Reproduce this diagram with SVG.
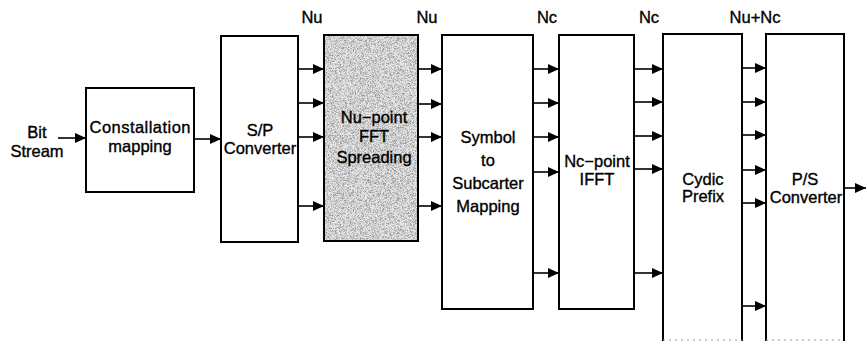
<svg xmlns="http://www.w3.org/2000/svg" width="866" height="341" viewBox="0 0 866 341">
<defs>
<marker id="ah" markerUnits="userSpaceOnUse" markerWidth="12" markerHeight="11" refX="11" refY="5" orient="auto">
<path d="M0,0 L11,5 L0,10 z" fill="#000"/>
</marker>
<filter id="stip" x="0" y="0" width="1" height="1">
<feTurbulence type="fractalNoise" baseFrequency="1.6" numOctaves="1" seed="3" result="n"/>
<feColorMatrix in="n" type="matrix" values="0 0 0 0 0  0 0 0 0 0  0 0 0 0 0  -3 0 0 0 1.75" result="d"/>
<feComposite in="d" in2="SourceGraphic" operator="in"/>
</filter>
</defs>
<style>
.box{fill:#fff;stroke:#000;stroke-width:2}
.t{font-family:"Liberation Sans",Arial,sans-serif;font-size:16.5px;fill:#000;stroke:#000;stroke-width:0.35;text-anchor:middle}
.c line{stroke:#000;stroke-width:1.6;marker-end:url(#ah)}
</style>
<g id="bitstream"><text class="t" x="37" y="138">Bit</text><text class="t" x="37" y="157">Stream</text></g>
<g id="constallation"><rect class="box" x="86" y="88" width="108" height="104"/>
<text class="t" x="140" y="133" textLength="101">Constallation</text><text class="t" x="140" y="152">mapping</text></g>
<g id="sp"><rect class="box" x="221" y="36" width="77" height="206"/>
<text class="t" x="260" y="136">S/P</text><text class="t" x="260" y="154">Converter</text></g>
<g id="fft"><rect x="324" y="35" width="94" height="206" fill="#e6e6e6"/>
<rect x="324" y="35" width="94" height="206" fill="#444" filter="url(#stip)" opacity="0.38"/>
<rect x="324" y="35" width="94" height="206" fill="none" stroke="#000" stroke-width="2"/>
<text class="t" x="374" y="123">Nu−point</text><text class="t" x="374" y="142">FFT</text><text class="t" x="374" y="163">Spreading</text></g>
<g id="symbol"><rect class="box" x="442" y="35" width="91" height="274"/>
<text class="t" x="488" y="143">Symbol</text><text class="t" x="488" y="166">to</text><text class="t" x="488" y="189">Subcarter</text><text class="t" x="488" y="212">Mapping</text></g>
<g id="ifft"><rect class="box" x="559" y="35" width="75" height="274"/>
<text class="t" x="597" y="167">Nc−point</text><text class="t" x="597" y="185">IFFT</text></g>
<g id="cp"><path d="M663,341 V34 H742 V341" fill="#fff" stroke="#000" stroke-width="2"/>
<line x1="663" y1="340" x2="742" y2="340" stroke="#999" stroke-width="1" stroke-dasharray="2 4"/>
<text class="t" x="703" y="185">Cydic</text><text class="t" x="703" y="202">Prefix</text></g>
<g id="ps"><path d="M766,341 V34 H844 V341" fill="#fff" stroke="#000" stroke-width="2"/>
<line x1="766" y1="340" x2="844" y2="340" stroke="#999" stroke-width="1" stroke-dasharray="2 4"/>
<text class="t" x="805" y="185">P/S</text><text class="t" x="806" y="203">Converter</text></g>
<g id="labels">
<text class="t" x="312" y="23">Nu</text><text class="t" x="427" y="23">Nu</text>
<text class="t" x="547" y="23">Nc</text><text class="t" x="649" y="23">Nc</text>
<text class="t" x="755" y="23">Nu+Nc</text></g>
<g id="connectors" class="c">
<line x1="58" y1="138" x2="86" y2="138"/>
<line x1="194" y1="139" x2="221" y2="139"/>
<line x1="298" y1="69" x2="324" y2="69"/><line x1="298" y1="103" x2="324" y2="103"/><line x1="298" y1="137" x2="324" y2="137"/><line x1="298" y1="206" x2="324" y2="206"/>
<line x1="418" y1="69" x2="442" y2="69"/><line x1="418" y1="104" x2="442" y2="104"/><line x1="418" y1="137" x2="442" y2="137"/><line x1="418" y1="206" x2="442" y2="206"/>
<line x1="533" y1="69" x2="559" y2="69"/><line x1="533" y1="103" x2="559" y2="103"/><line x1="533" y1="137" x2="559" y2="137"/><line x1="533" y1="172" x2="559" y2="172"/><line x1="533" y1="273" x2="559" y2="273"/>
<line x1="634" y1="69" x2="663" y2="69"/><line x1="634" y1="102" x2="663" y2="102"/><line x1="634" y1="136" x2="663" y2="136"/><line x1="634" y1="169" x2="663" y2="169"/><line x1="634" y1="273" x2="663" y2="273"/>
<line x1="742" y1="68" x2="766" y2="68"/><line x1="742" y1="102" x2="766" y2="102"/><line x1="742" y1="135" x2="766" y2="135"/><line x1="742" y1="170" x2="766" y2="170"/><line x1="742" y1="203" x2="766" y2="203"/><line x1="742" y1="306" x2="766" y2="306"/>
<line x1="844" y1="188" x2="866" y2="188"/>
</g>
</svg>
